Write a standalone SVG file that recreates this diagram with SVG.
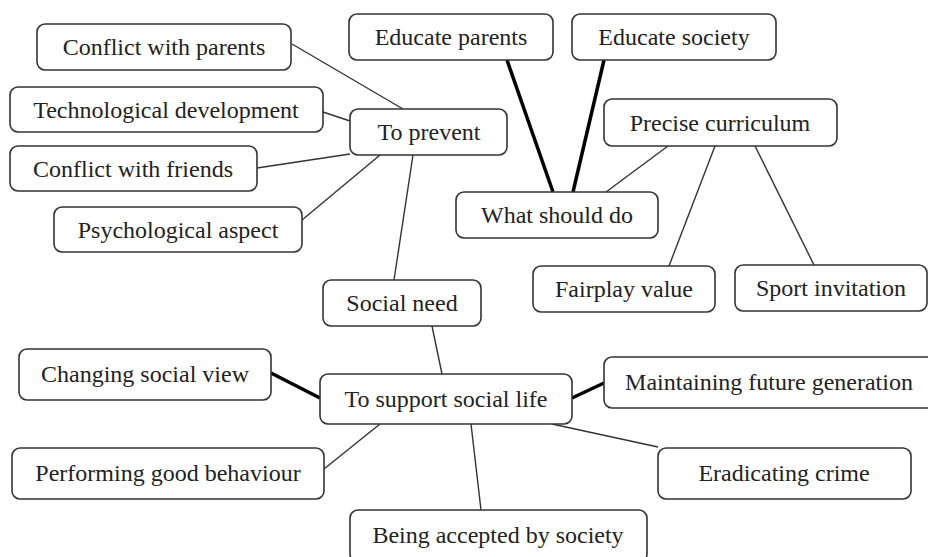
<svg xmlns="http://www.w3.org/2000/svg" width="928" height="557" viewBox="0 0 928 557">
<style>
.n rect{fill:#fff;stroke:#333;stroke-width:1.6}
.n text{font-family:'Liberation Serif','Times New Roman',serif;font-size:24px;fill:#222;text-anchor:middle}
.c line{stroke:#333;stroke-width:1.4}
.c line.t{stroke:#000;stroke-width:3.5}
</style>
<rect width="928" height="557" fill="#fff"/>
<g class="c" id="connectors">
<line x1="292" y1="44" x2="403" y2="109"/>
<line x1="323" y1="112" x2="350" y2="121"/>
<line x1="257" y1="168" x2="350" y2="154"/>
<line x1="302" y1="220" x2="380" y2="155"/>
<line x1="413" y1="155" x2="394" y2="280"/>
<line x1="432" y1="326" x2="442" y2="374"/>
<line class="t" x1="271" y1="373" x2="320" y2="398"/>
<line x1="324" y1="469" x2="380" y2="424"/>
<line x1="471" y1="424" x2="481" y2="510"/>
<line class="t" x1="572" y1="398" x2="604" y2="383"/>
<line x1="552" y1="424" x2="658" y2="447"/>
<line class="t" x1="507" y1="60" x2="553" y2="192"/>
<line class="t" x1="604" y1="60" x2="573" y2="192"/>
<line x1="668" y1="146" x2="606" y2="192"/>
<line x1="715" y1="146" x2="669" y2="266"/>
<line x1="755" y1="146" x2="814" y2="265"/>
</g>
<g font-family="Liberation Serif, Times New Roman, serif">
<g class="n" id="n1"><rect x="37" y="24" width="254" height="46" rx="8"/><text x="164" y="55">Conflict with parents</text></g>
<g class="n" id="n2"><rect x="10" y="87" width="313" height="45" rx="8"/><text x="166" y="118">Technological development</text></g>
<g class="n" id="n3"><rect x="10" y="146" width="247" height="45" rx="8"/><text x="133" y="177">Conflict with friends</text></g>
<g class="n" id="n4"><rect x="54" y="207" width="248" height="45" rx="8"/><text x="178" y="238">Psychological aspect</text></g>
<g class="n" id="n5"><rect x="350" y="109" width="157" height="46" rx="8"/><text x="429" y="140">To prevent</text></g>
<g class="n" id="n6"><rect x="349" y="14" width="204" height="46" rx="8"/><text x="451" y="45">Educate parents</text></g>
<g class="n" id="n7"><rect x="572" y="14" width="204" height="46" rx="8"/><text x="674" y="45">Educate society</text></g>
<g class="n" id="n8"><rect x="604" y="99" width="233" height="47" rx="8"/><text x="720" y="131">Precise curriculum</text></g>
<g class="n" id="n9"><rect x="456" y="192" width="202" height="46" rx="8"/><text x="557" y="223">What should do</text></g>
<g class="n" id="n10"><rect x="533" y="266" width="182" height="46" rx="8"/><text x="624" y="297">Fairplay value</text></g>
<g class="n" id="n11"><rect x="735" y="265" width="192" height="46" rx="8"/><text x="831" y="296">Sport invitation</text></g>
<g class="n" id="n12"><rect x="323" y="280" width="158" height="46" rx="8"/><text x="402" y="311">Social need</text></g>
<g class="n" id="n13"><rect x="19" y="349" width="252" height="51" rx="8"/><text x="145" y="382">Changing social view</text></g>
<g class="n" id="n14"><rect x="320" y="374" width="252" height="50" rx="8"/><text x="446" y="407">To support social life</text></g>
<g class="n" id="n15"><rect x="12" y="448" width="312" height="51" rx="8"/><text x="168" y="481">Performing good behaviour</text></g>
<g class="n" id="n16"><rect x="350" y="510" width="297" height="52" rx="8"/><text x="498" y="543">Being accepted by society</text></g>
<g class="n" id="n17"><rect x="604" y="357" width="334" height="51" rx="8"/><text x="769" y="390">Maintaining future generation</text></g>
<g class="n" id="n18"><rect x="658" y="448" width="253" height="51" rx="8"/><text x="784" y="481">Eradicating crime</text></g>
</g>
</svg>
